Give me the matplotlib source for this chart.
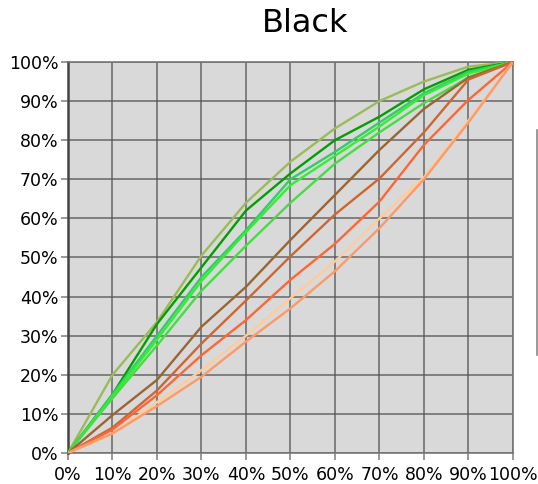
import matplotlib.pyplot as plt
from matplotlib.lines import Line2D

# x positions (percent)
x_pct = [0, 10, 20, 30, 40, 50, 60, 70, 80, 90, 100]

# series values (percent)
olive = [0, 20, 33.5, 50.5, 64, 74.5, 83, 90, 95, 98.8, 100]
dark_green = [0, 15, 33, 47.5, 62, 71.5, 80, 86, 93, 98, 100]
sea_green = [0, 15, 30, 45, 57, 70, 77, 84.5, 92, 97.5, 100]
bright_green = [0, 14.5, 29, 44, 56.5, 68.5, 76, 83.5, 91.5, 97, 100]
light_green = [0, 14, 27.5, 41.5, 53, 64, 74, 82, 89.5, 96, 100]
brown = [0, 9.7, 18.7, 32.3, 42.5, 54.5, 66, 77.5, 88, 96, 100]
rust = [0, 6.5, 16, 28, 39, 50.3, 61, 70.2, 82, 95.5, 100]
orange_red = [0, 6, 14.8, 25, 34, 44.3, 53.5, 64.3, 78.8, 90.3, 100]
peach = [0, 5, 13, 21.2, 30, 39.6, 49, 60, 70.5, 85, 100]
light_orange = [0, 5, 12, 19.5, 28.5, 37, 46.5, 57.5, 70, 84.5, 100]

series = [
    (olive, "#9BBB59"),
    (dark_green, "#00A000"),
    (sea_green, "#33CC66"),
    (bright_green, "#33EE33"),
    (light_green, "#44DD44"),
    (brown, "#996633"),
    (rust, "#CC6633"),
    (orange_red, "#FF6633"),
    (peach, "#FFCC99"),
    (light_orange, "#FF9966"),
]

tick_labels = [f"{v}%" for v in x_pct]

fig = plt.figure(figsize=(5.38, 4.84), dpi=100)
ax = fig.add_axes([0.1264, 0.064, 0.827, 0.808])
ax.set_facecolor("#D9D9D9")

for vals, col in series:
    ax.plot(x_pct, vals, color=col, lw=1.7, zorder=3)

ax.set_xlim(0, 100)
ax.set_ylim(0, 100)
ax.set_xticks(x_pct)
ax.set_yticks(x_pct)
ax.set_xticklabels(tick_labels, fontsize=12.5)
ax.set_yticklabels(tick_labels, fontsize=12.5)
ax.tick_params(length=5, color="#888888", width=1.2, pad=2)
ax.tick_params(axis="x", pad=4)
ax.grid(True, color="#555555", lw=1.2, alpha=0.8, zorder=1)
ax.set_axisbelow(True)
for s in ax.spines.values():
    s.set_color("#777777")
    s.set_linewidth(1.2)
ax.spines["left"].set_color("#444444")
ax.spines["left"].set_linewidth(1.8)

fig.text(0.567, 0.952, "Black", ha="center", va="center", fontsize=23)

# edge of the clipped legend box at the right border
fig.add_artist(Line2D([0.998, 0.998], [1 - 130 / 484, 1 - 355 / 484],
                      transform=fig.transFigure, color="#888888", lw=1.2))

fig.savefig("out.png", dpi=100)
